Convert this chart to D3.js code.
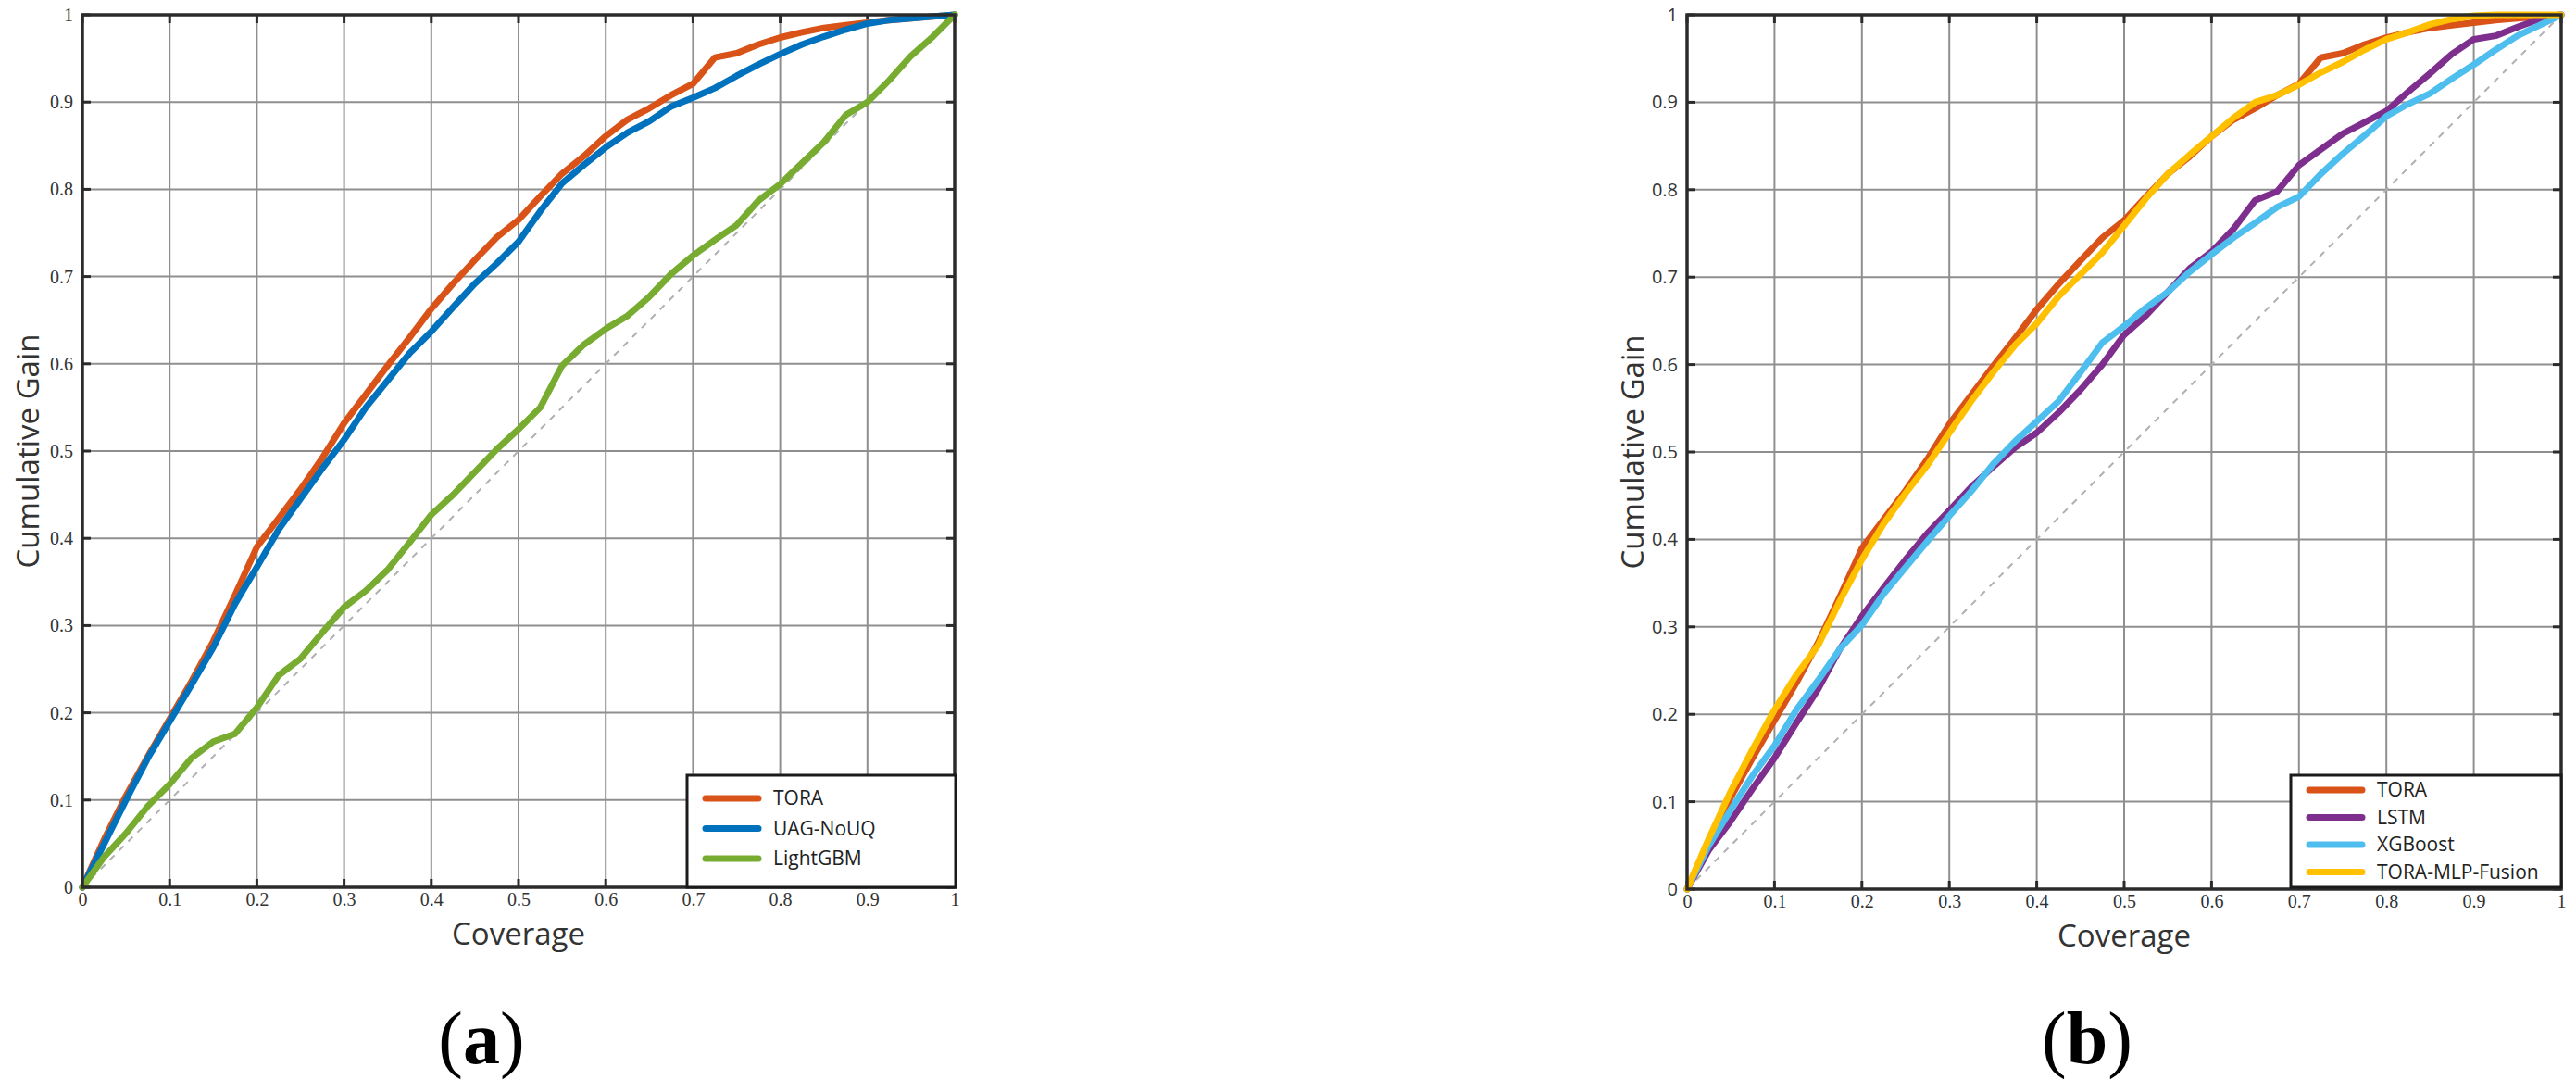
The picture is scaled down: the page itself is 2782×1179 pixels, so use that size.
<!DOCTYPE html>
<html>
<head>
<meta charset="utf-8" />
<title>Cumulative Gain</title>
<style>
html, body {
    margin: 0px;
    padding: 0px;
    background: #fff;
}
svg { display: block; }
.grid line { stroke: #8f8f8f; stroke-width: 2; }
.frame { fill: none; stroke: #2b2b2b; stroke-width: 3.5; }
.tickmark { stroke: #2b2b2b; stroke-width: 3; }
.num { font-family: "Liberation Serif", serif; font-size: 20px; fill: #333; }
.num-sans { font-family: "Open Sans", sans-serif; font-size: 20px; fill: #333; }
.axlabel { font-family: "Open Sans", sans-serif; font-size: 33px; fill: #333; }
.legtext { font-family: "Open Sans", sans-serif; font-size: 21px; fill: #222; }
.panel-label { font-family: "Liberation Serif", serif; font-size: 80px; fill: #000; }
</style>
</head>
<body>
<svg id="chart" width="2782" height="1179"></svg>

<script src="https://cdnjs.cloudflare.com/ajax/libs/d3/7.8.5/d3.min.js"></script>
<script>
!(function(){
    "use strict"

    // coverage (x) positions at which the curves were read
    var coverage = [0, 0.025, 0.05, 0.075, 0.1, 0.125, 0.15, 0.175, 0.2, 0.225,
        0.25, 0.275, 0.3, 0.325, 0.35, 0.375, 0.4, 0.425, 0.45, 0.475,
        0.5, 0.525, 0.55, 0.575, 0.6, 0.625, 0.65, 0.675, 0.7, 0.725,
        0.75, 0.775, 0.8, 0.825, 0.85, 0.875, 0.9, 0.925, 0.95, 0.975, 1];

    var tora = [0, 0.055, 0.105, 0.15, 0.193, 0.236, 0.282, 0.335, 0.39, 0.423,
        0.456, 0.492, 0.532, 0.565, 0.598, 0.63, 0.663, 0.692, 0.719, 0.745,
        0.765, 0.792, 0.818, 0.838, 0.861, 0.88, 0.893, 0.908, 0.921, 0.951,
        0.956, 0.966, 0.974, 0.98, 0.985, 0.988, 0.991, 0.994, 0.996, 0.998, 1];

    var uagNoUQ = [0, 0.05, 0.1, 0.148, 0.19, 0.232, 0.275, 0.325, 0.367, 0.41,
        0.445, 0.48, 0.513, 0.55, 0.581, 0.612, 0.637, 0.665, 0.692, 0.715,
        0.74, 0.775, 0.807, 0.828, 0.848, 0.865, 0.878, 0.895, 0.905, 0.916,
        0.93, 0.943, 0.955, 0.966, 0.975, 0.983, 0.99, 0.994, 0.996, 0.998, 1];

    var lightGBM = [0, 0.035, 0.062, 0.093, 0.118, 0.148, 0.167, 0.176, 0.206, 0.243,
        0.262, 0.292, 0.321, 0.34, 0.364, 0.395, 0.427, 0.45, 0.476, 0.502,
        0.525, 0.55, 0.598, 0.622, 0.64, 0.655, 0.677, 0.703, 0.724, 0.742,
        0.759, 0.787, 0.806, 0.83, 0.854, 0.885, 0.9, 0.925, 0.953, 0.975, 1];

    var lstm = [0, 0.045, 0.078, 0.115, 0.15, 0.19, 0.229, 0.275, 0.312, 0.345,
        0.377, 0.407, 0.433, 0.46, 0.483, 0.505, 0.522, 0.545, 0.571, 0.6,
        0.634, 0.656, 0.683, 0.71, 0.729, 0.755, 0.788, 0.798, 0.828, 0.846,
        0.864, 0.877, 0.89, 0.912, 0.933, 0.955, 0.972, 0.976, 0.986, 0.995, 1];

    var xgboost = [0, 0.05, 0.091, 0.13, 0.164, 0.205, 0.239, 0.275, 0.302, 0.338,
        0.368, 0.398, 0.427, 0.455, 0.486, 0.512, 0.535, 0.558, 0.591, 0.625,
        0.644, 0.665, 0.683, 0.706, 0.726, 0.745, 0.762, 0.78, 0.792, 0.818,
        0.841, 0.862, 0.884, 0.898, 0.91, 0.927, 0.943, 0.96, 0.976, 0.988, 1];

    var toraMlpFusion = [0, 0.058, 0.112, 0.16, 0.205, 0.245, 0.279, 0.33, 0.377, 0.418,
        0.453, 0.485, 0.522, 0.558, 0.591, 0.622, 0.647, 0.678, 0.703, 0.728,
        0.759, 0.79, 0.818, 0.84, 0.861, 0.882, 0.9, 0.908, 0.92, 0.934,
        0.946, 0.96, 0.972, 0.98, 0.989, 0.995, 0.999, 1, 1, 1, 1];

    var tickValues = [0, 0.1, 0.2, 0.3, 0.4, 0.5, 0.6, 0.7, 0.8, 0.9, 1];
    var tickLabels = ["0", "0.1", "0.2", "0.3", "0.4", "0.5", "0.6", "0.7", "0.8", "0.9", "1"];

    var seriesA = [
        {name: "TORA", values: tora, color: "#D95319"},
        {name: "UAG-NoUQ", values: uagNoUQ, color: "#0072BD"},
        {name: "LightGBM", values: lightGBM, color: "#77AC30"}
    ];
    var seriesB = [
        {name: "TORA", values: tora, color: "#D95319"},
        {name: "LSTM", values: lstm, color: "#7E2F8E"},
        {name: "XGBoost", values: xgboost, color: "#4DBEEE"},
        {name: "TORA-MLP-Fusion", values: toraMlpFusion, color: "#FFC000"}
    ];

    var svg = d3.select("#chart");
    svg.append("rect").attr("width", 2782).attr("height", 1179).attr("fill", "#fff");

    drawPanel({left: 89, top: 16, size: 942, series: seriesA, letter: "a",
        yLabelClass: "num", legend: {x: 742, y: 837, w: 290, h: 121, row0: 25, rowStep: 32.5}});
    drawPanel({left: 1822, top: 16, size: 944, series: seriesB, letter: "b",
        yLabelClass: "num-sans", legend: {x: 2474, y: 837, w: 292, h: 121, row0: 16, rowStep: 29.5}});

    function drawPanel(p) {
        var g = svg.append("g");
        var x = d3.scaleLinear().domain([0, 1]).range([p.left, p.left + p.size]);
        var y = d3.scaleLinear().domain([0, 1]).range([p.top + p.size, p.top]);

        // grid
        var grid = g.append("g").attr("class", "grid");
        grid.selectAll("line.v").data(tickValues.slice(1, -1)).enter().append("line")
            .attr("x1", d => x(d)).attr("x2", d => x(d))
            .attr("y1", y(0)).attr("y2", y(1));
        grid.selectAll("line.h").data(tickValues.slice(1, -1)).enter().append("line")
            .attr("class", "h")
            .attr("y1", d => y(d)).attr("y2", d => y(d))
            .attr("x1", x(0)).attr("x2", x(1));

        // inward tick marks on all four sides
        var tl = 9;
        var tk = g.append("g");
        tickValues.forEach(function(d) {
            tk.append("line").attr("class", "tickmark")
                .attr("x1", x(d)).attr("x2", x(d)).attr("y1", y(0)).attr("y2", y(0) - tl);
            tk.append("line").attr("class", "tickmark")
                .attr("x1", x(d)).attr("x2", x(d)).attr("y1", y(1)).attr("y2", y(1) + tl);
            tk.append("line").attr("class", "tickmark")
                .attr("y1", y(d)).attr("y2", y(d)).attr("x1", x(0)).attr("x2", x(0) + tl);
            tk.append("line").attr("class", "tickmark")
                .attr("y1", y(d)).attr("y2", y(d)).attr("x1", x(1)).attr("x2", x(1) - tl);
        });

        // diagonal reference
        g.append("line")
            .attr("x1", x(0)).attr("y1", y(0)).attr("x2", x(1)).attr("y2", y(1))
            .attr("stroke", "#b0b0b0").attr("stroke-width", 2)
            .attr("stroke-dasharray", "7 7");

        // curves
        var line = d3.line()
            .x((d, i) => x(coverage[i]))
            .y(d => y(d));
        g.selectAll("path.curve").data(p.series).enter().append("path")
            .attr("class", "curve")
            .attr("d", d => line(d.values))
            .attr("fill", "none")
            .attr("stroke", d => d.color)
            .attr("stroke-width", 7)
            .attr("stroke-linejoin", "round")
            .attr("stroke-linecap", "round");

        // frame
        g.append("rect").attr("class", "frame")
            .attr("x", x(0)).attr("y", y(1))
            .attr("width", x(1) - x(0)).attr("height", y(0) - y(1));

        // tick labels
        var xAxis = d3.axisBottom(x).tickValues(tickValues).tickSize(0)
            .tickFormat((d, i) => tickLabels[i]);
        var xa = g.append("g").attr("transform", "translate(0," + (y(0) + 3) + ")").call(xAxis);
        xa.select(".domain").remove();
        xa.selectAll("text").attr("class", "num").attr("fill", null)
            .attr("font-family", null).attr("font-size", null);

        var yAxis = d3.axisLeft(y).tickValues(tickValues).tickSize(0)
            .tickFormat((d, i) => tickLabels[i]);
        var ya = g.append("g").attr("transform", "translate(" + (x(0) - 7) + ",0)").call(yAxis);
        ya.select(".domain").remove();
        ya.selectAll("text").attr("class", p.yLabelClass).attr("fill", null)
            .attr("font-family", null).attr("font-size", null);

        // axis titles
        g.append("text").attr("class", "axlabel")
            .attr("x", (x(0) + x(1)) / 2).attr("y", y(0) + 62)
            .attr("text-anchor", "middle").text("Coverage");
        g.append("text").attr("class", "axlabel")
            .attr("transform", "translate(" + (x(0) - 47) + "," + ((y(0) + y(1)) / 2) + ") rotate(-90)")
            .attr("text-anchor", "middle").text("Cumulative Gain");

        // legend
        var L = p.legend;
        var lg = g.append("g");
        lg.append("rect").attr("x", L.x).attr("y", L.y).attr("width", L.w).attr("height", L.h)
            .attr("fill", "#fff").attr("stroke", "#1a1a1a").attr("stroke-width", 3);
        var rows = lg.selectAll("g.row").data(p.series).enter().append("g")
            .attr("transform", (d, i) => "translate(" + L.x + "," + (L.y + L.row0 + i * L.rowStep) + ")");
        rows.append("line").attr("x1", 20).attr("x2", 77)
            .attr("stroke", d => d.color).attr("stroke-width", 7).attr("stroke-linecap", "round");
        rows.append("text").attr("class", "legtext").attr("x", 93).attr("dy", "0.35em")
            .text(d => d.name);

        // panel letter
        var t = svg.append("text").attr("class", "panel-label")
            .attr("x", (x(0) + x(1)) / 2 - 40).attr("y", 1148).attr("text-anchor", "middle");
        t.append("tspan").text("(");
        t.append("tspan").attr("font-weight", "bold").text(p.letter);
        t.append("tspan").text(")");
    }
}());
</script>
</body>
</html>
